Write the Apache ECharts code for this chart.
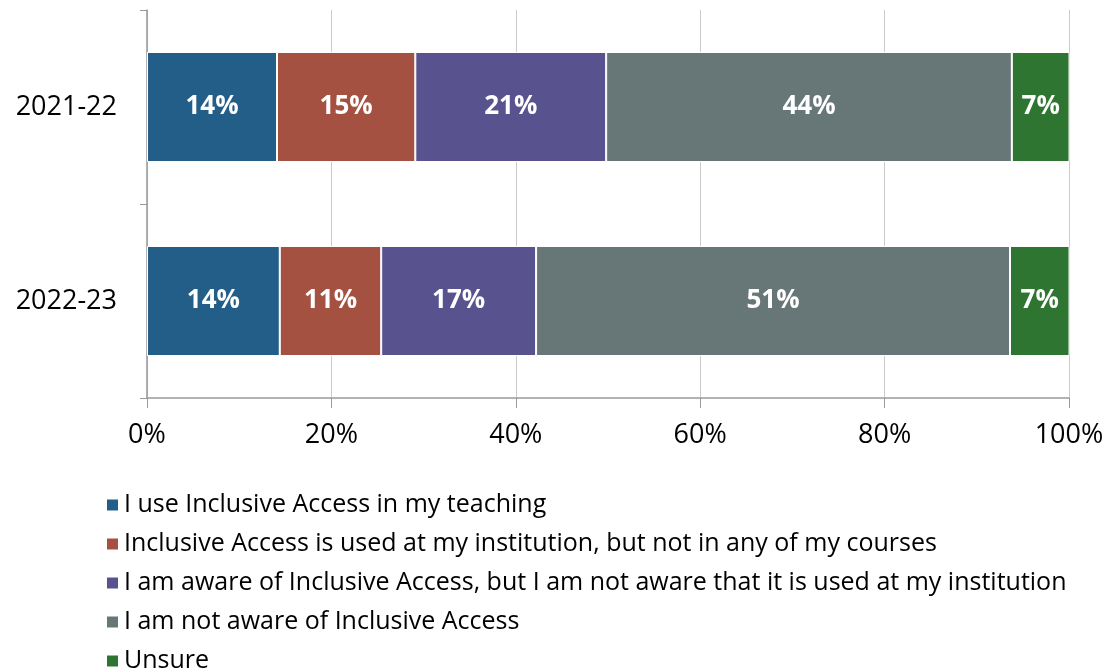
<!DOCTYPE html>
<html>
<head>
<meta charset="utf-8">
<script src="https://cdn.jsdelivr.net/npm/echarts@6/dist/echarts.min.js"></script>
<style>
html, body { margin: 0; padding: 0; background: #fff; }
#main { width: 1109px; height: 670px; }
</style>
</head>
<body>
<div id="main"></div>
<script>
var years = ['2021-22', '2022-23'];
var seriesNames = [
    'I use Inclusive Access in my teaching',
    'Inclusive Access is used at my institution, but not in any of my courses',
    'I am aware of Inclusive Access, but I am not aware that it is used at my institution',
    'I am not aware of Inclusive Access',
    'Unsure'
];
var useInTeaching = [14.1, 14.4];
var usedAtInstitution = [15.0, 11.0];
var awareNotUsed = [20.7, 16.8];
var notAware = [44.0, 51.4];
var unsure = [6.6, 6.6];
var xTicks = [0, 20, 40, 60, 80, 100];

var colors = ['#235E89', '#A55142', '#58528E', '#677778', '#2E7531'];
var font = '"Open Sans", Lato, sans-serif';

var chart = echarts.init(document.getElementById('main'));

function makeSeries(name, data, i) {
    return {
        name: name,
        type: 'bar',
        stack: 'total',
        data: data,
        barWidth: 110,
        itemStyle: { color: colors[i], borderColor: '#fff', borderWidth: 1 },
        label: {
            show: true,
            position: 'inside',
            color: '#fff',
            fontFamily: font,
            fontWeight: 'bold',
            fontSize: 26,
            formatter: function (p) { return Math.round(p.value) + '%'; }
        }
    };
}

var allData = [useInTeaching, usedAtInstitution, awareNotUsed, notAware, unsure];

var option = {
    animation: false,
    grid: { left: 147, right: 40, top: 10, bottom: 272 },
    xAxis: {
        type: 'value',
        min: 0,
        max: 100,
        interval: 20,
        axisLine: { show: true, lineStyle: { color: '#999', width: 1.5 } },
        axisTick: { show: true, length: 10, lineStyle: { color: '#999' } },
        splitLine: { show: true, lineStyle: { color: '#ccc' } },
        axisLabel: {
            color: '#000',
            fontFamily: font,
            fontSize: 27,
            margin: 24,
            formatter: function (v) { return xTicks.indexOf(v) >= 0 ? v + '%' : ''; }
        }
    },
    yAxis: {
        type: 'category',
        data: years,
        inverse: true,
        axisLine: { show: true, lineStyle: { color: '#999', width: 1.5 } },
        axisTick: { show: true, length: 7, lineStyle: { color: '#999' } },
        axisLabel: { color: '#000', fontFamily: font, fontSize: 27, margin: 30 }
    },
    legend: {
        orient: 'vertical',
        left: 100,
        top: 487,
        height: 200,
        icon: 'rect',
        itemWidth: 13,
        itemHeight: 13,
        itemGap: 13,
        data: seriesNames,
        textStyle: { color: '#000', fontFamily: font, fontSize: 25, lineHeight: 26 }
    },
    series: seriesNames.map(function (n, i) { return makeSeries(n, allData[i], i); })
};

chart.setOption(option);
</script>
</body>
</html>
